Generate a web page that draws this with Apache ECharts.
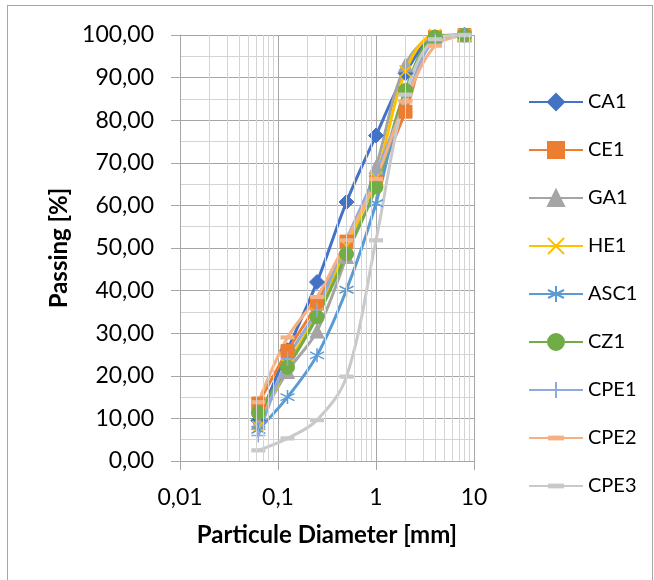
<!DOCTYPE html>
<html>
<head>
<meta charset="utf-8">
<script src="https://cdn.jsdelivr.net/npm/echarts@6/dist/echarts.min.js"></script>
<style>
  html, body { margin: 0; padding: 0; background: #fff; }
  #frame { position: absolute; left: 7px; top: 5px; width: 646px; height: 600px; border: 1px solid #a6a6a6; box-sizing: border-box; }
  #chart { position: absolute; left: 0; top: 0; width: 654px; height: 580px; }
</style>
</head>
<body>
<div id="frame"></div>
<div id="chart"></div>
<script>
// sieve sizes [mm]
var sizes = [0.063, 0.125, 0.25, 0.5, 1, 2, 4, 8];
var CA1 = [9.5, 26.0, 42.0, 60.8, 76.4, 91.0, 99.5, 100];
var CE1 = [13.5, 25.8, 37.0, 51.5, 65.5, 82.0, 99.5, 100];
var GA1 = [9.0, 21.0, 30.5, 48.0, 69.0, 93.0, 99.6, 100];
var HE1 = [8.0, 22.5, 34.5, 50.5, 66.5, 91.5, 100, 100];
var ASC1 = [7.3, 15.0, 24.8, 40.2, 60.5, 87.0, 99.0, 100];
var CZ1 = [11.3, 22.0, 33.8, 48.6, 64.3, 87.0, 99.5, 100];
var CPE1 = [6.0, 24.0, 35.5, 52.0, 67.5, 84.5, 98.8, 100];
var CPE2 = [13.8, 29.0, 38.5, 51.8, 66.2, 84.4, 97.5, 100];
var CPE3 = [2.5, 5.3, 9.6, 19.8, 51.8, 86.0, 99.0, 100];
// minor log gridlines
var minorX = [0.02, 0.03, 0.04, 0.05, 0.06, 0.07, 0.08, 0.09,
  0.2, 0.3, 0.4, 0.5, 0.6, 0.7, 0.8, 0.9,
  2, 3, 4, 5, 6, 7, 8, 9];

var font = "Lato, 'Open Sans', sans-serif";
var chart = echarts.init(document.getElementById("chart"));

function pairs(arr) {
  return sizes.map(function (s, i) { return [s, arr[i]]; });
}

function mk(name, data, color, symbol, size, extra) {
  var s = {
    name: name,
    type: "line",
    smooth: 0.35,
    z: 3,
    data: pairs(data),
    symbol: symbol,
    symbolSize: size,
    showAllSymbol: true,
    lineStyle: { color: color, width: 3 },
    itemStyle: { color: color, borderColor: color, borderWidth: 1 }
  };
  if (extra) Object.assign(s, extra);
  return s;
}

var xPath = "path://M0,0L10,10M10,0L0,10";
var starPath = "path://M5,0L5,10M0,2.5L10,7.5M10,2.5L0,7.5";
var plusPath = "path://M5,0L5,10M0,5L10,5";
// square bounds so the dash keeps its shape everywhere
var dashPath = "path://M0,0L0,0M10,10L10,10M0,3.5L10,3.5L10,6.5L0,6.5Z";

var names = ["CA1", "CE1", "GA1", "HE1", "ASC1", "CZ1", "CPE1", "CPE2", "CPE3"];

var option = {
  backgroundColor: "transparent",
  animation: false,
  grid: { left: 180, right: 180, top: 35, bottom: 119 },
  legend: {
    data: names,
    orient: "vertical",
    left: 523,
    top: 87,
    itemWidth: 54,
    itemHeight: 20,
    itemGap: 28,
    textStyle: { fontFamily: font, fontSize: 20, color: "#000", lineHeight: 20 }
  },
  xAxis: {
    type: "log",
    logBase: 10,
    min: 0.01,
    max: 10,
    name: "Particule Diameter [mm]",
    nameLocation: "middle",
    nameGap: 62,
    nameTextStyle: { fontFamily: font, fontSize: 24, fontWeight: "bold", color: "#000" },
    axisLine: { show: true, lineStyle: { color: "#a6a6a6", width: 1 } },
    axisTick: { show: true, length: 9, lineStyle: { color: "#a6a6a6" } },
    axisLabel: {
      fontFamily: font, fontSize: 23, color: "#000", margin: 25,
      formatter: function (v) { return String(v).replace(".", ","); }
    },
    splitLine: { show: true, lineStyle: { color: "#a6a6a6", width: 1 } }
  },
  yAxis: {
    type: "value",
    min: 0,
    max: 100,
    interval: 10,
    name: "Passing [%]",
    nameLocation: "middle",
    nameGap: 109,
    nameTextStyle: { fontFamily: font, fontSize: 24, fontWeight: "bold", color: "#000" },
    axisLine: { show: true, lineStyle: { color: "#a6a6a6", width: 1 } },
    axisTick: { show: true, length: 9, lineStyle: { color: "#a6a6a6" } },
    axisLabel: {
      fontFamily: font, fontSize: 23, color: "#000", margin: 26,
      formatter: function (v) { return v.toFixed(2).replace(".", ","); }
    },
    splitLine: { show: true, lineStyle: { color: "#a6a6a6", width: 1 } },
    minorTick: { show: false, splitNumber: 2 },
    minorSplitLine: { show: true, lineStyle: { color: "#d4d4d4", width: 1 } }
  },
  series: [
    {
      name: "grid",
      type: "line",
      data: [],
      z: 1,
      silent: true,
      markLine: {
        silent: true,
        symbol: ["none", "none"],
        label: { show: false },
        lineStyle: { color: "#d4d4d4", width: 1, type: "solid" },
        data: minorX.map(function (v) { return { xAxis: v }; })
      }
    },
    mk("CA1", CA1, "#4472C4", "diamond", 15),
    mk("CE1", CE1, "#ED7D31", "rect", 13),
    mk("GA1", GA1, "#A5A5A5", "triangle", 14),
    mk("HE1", HE1, "#FFC000", xPath, 12, { itemStyle: { color: "transparent", borderColor: "#FFC000", borderWidth: 1.5 } }),
    mk("ASC1", ASC1, "#5B9BD5", starPath, 14, { itemStyle: { color: "transparent", borderColor: "#5B9BD5", borderWidth: 1.5 } }),
    mk("CZ1", CZ1, "#70AD47", "circle", 14),
    mk("CPE1", CPE1, "#8FAADC", plusPath, 14, { itemStyle: { color: "transparent", borderColor: "#8FAADC", borderWidth: 1.5 } }),
    mk("CPE2", CPE2, "#F4B183", dashPath, 14, { itemStyle: { color: "#F4B183", borderWidth: 0 } }),
    mk("CPE3", CPE3, "#C9C9C9", dashPath, 14, { itemStyle: { color: "#C9C9C9", borderWidth: 0 } })
  ]
};
chart.setOption(option);
</script>
</body>
</html>
